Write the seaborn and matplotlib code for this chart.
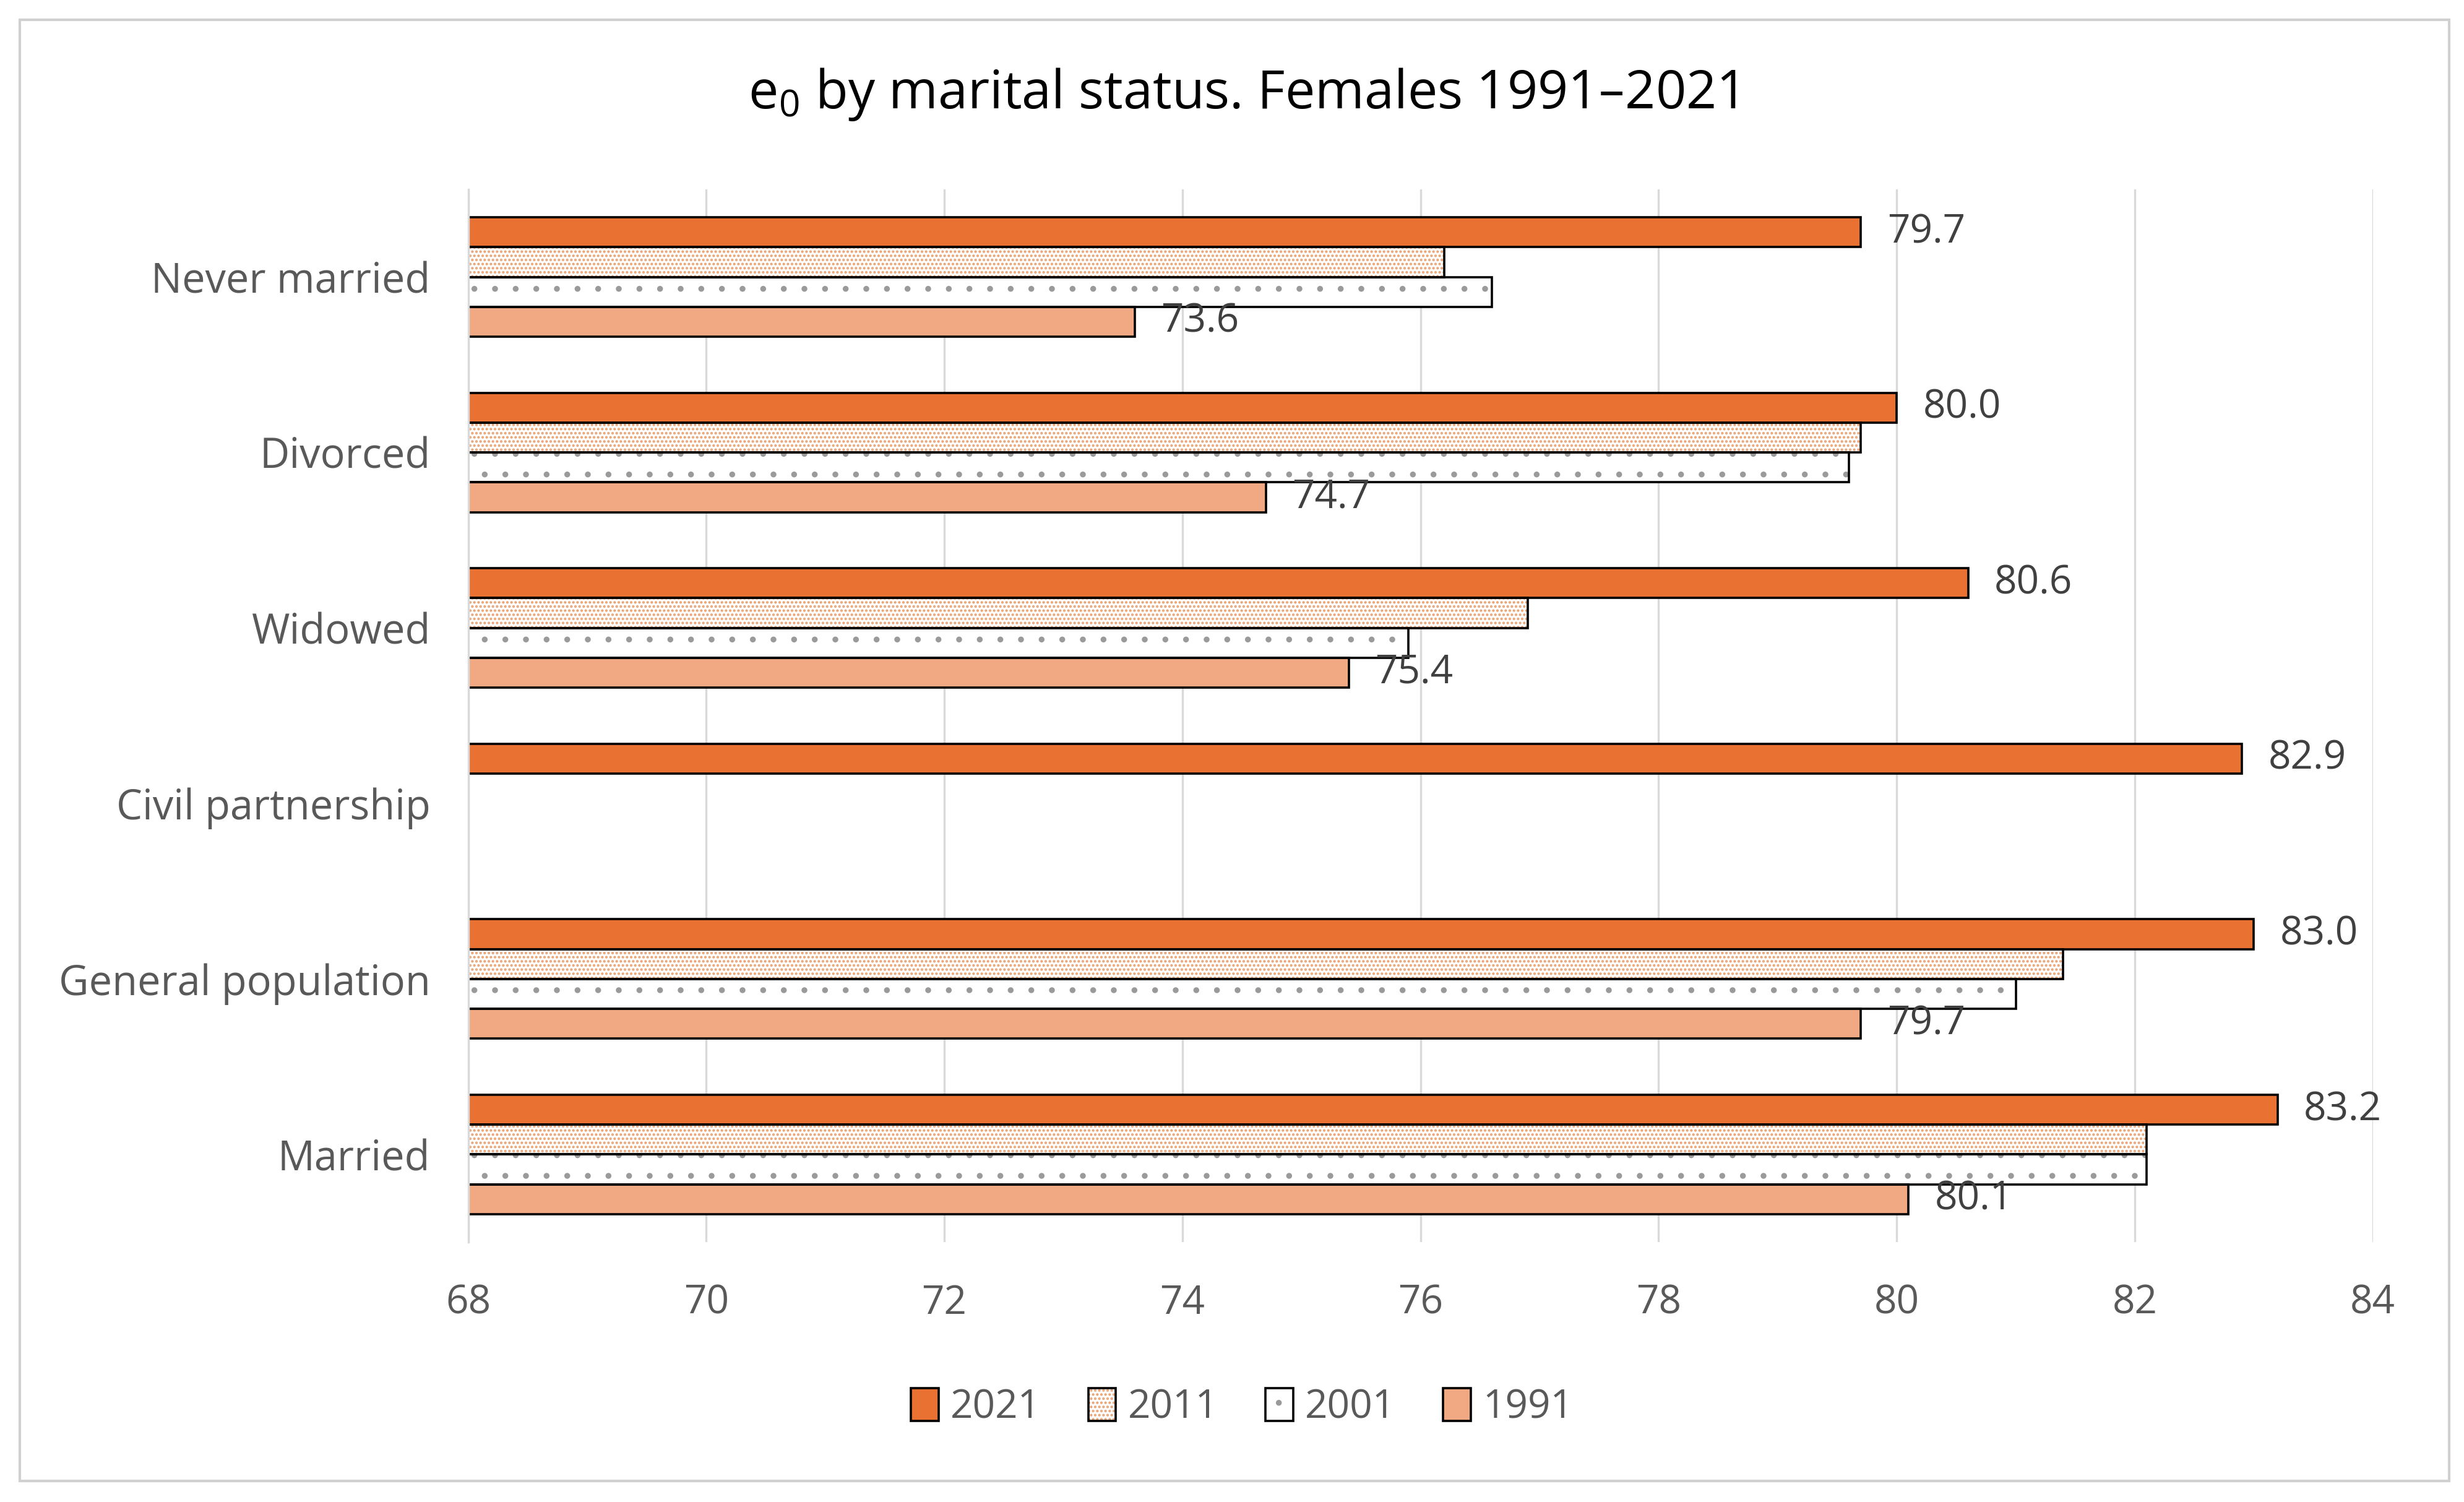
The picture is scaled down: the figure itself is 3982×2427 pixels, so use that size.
import numpy as np
import pandas as pd
import seaborn as sns
import matplotlib.pyplot as plt
from matplotlib.patches import Patch, Rectangle

categories = ['Never married', 'Divorced', 'Widowed', 'Civil partnership',
              'General population', 'Married']
years = ['2021', '2011', '2001', '1991']
e0_2021 = [79.7, 80.0, 80.6, 82.9, 83.0, 83.2]
e0_2011 = [76.2, 79.7, 76.9, np.nan, 81.4, 82.1]
e0_2001 = [76.6, 79.6, 75.9, np.nan, 81.0, 82.1]
e0_1991 = [73.6, 74.7, 75.4, np.nan, 79.7, 80.1]
labelled_years = ['2021', '1991']
x_ticks = [68, 70, 72, 74, 76, 78, 80, 82, 84]

series = {'2021': e0_2021, '2011': e0_2011, '2001': e0_2001, '1991': e0_1991}
rows = []
for year in years:
    for cat, val in zip(categories, series[year]):
        rows.append({'status': cat, 'year': year, 'e0': val})
df = pd.DataFrame(rows)

face = {'2021': '#E97132', '2011': 'white', '2001': 'white', '1991': '#F1A983'}
hatch = {'2021': '', '2011': '.....', '2001': '.', '1991': ''}
hatch_col = {'2021': '#E97132', '2011': '#E9A070', '2001': '#9a9a9a', '1991': '#F1A983'}

sns.set_theme(style='white')
plt.rcParams['font.family'] = ['Open Sans', 'DejaVu Sans']
plt.rcParams['mathtext.default'] = 'regular'
plt.rcParams['hatch.linewidth'] = 1.0
text_col = '#595959'

fig = plt.figure(figsize=(19.91, 12.135), dpi=200)
ax = fig.add_axes([0.190, 0.173, 0.773, 0.701])

# layer 1: fills + hatch (hatch colour follows edgecolor)
sns.barplot(data=df, y='status', x='e0', hue='year', order=categories,
            hue_order=years, orient='h', width=0.68, ax=ax,
            errorbar=None, legend=False, linewidth=0)
for year, cont in zip(years, ax.containers[:4]):
    for p in cont:
        p.set_facecolor(face[year])
        p.set_edgecolor(hatch_col[year])
        p.set_hatch(hatch[year])
        p.set_linewidth(0)

# layer 2: black outlines
sns.barplot(data=df, y='status', x='e0', hue='year', order=categories,
            hue_order=years, orient='h', width=0.68, ax=ax,
            errorbar=None, legend=False, fill=False)
for cont in ax.containers[4:8]:
    for p in cont:
        p.set_edgecolor('black')
        p.set_linewidth(1.3)
        p.set_facecolor('none')

# data labels for 2021 and 1991
for year, cont in zip(years, ax.containers[:4]):
    if year not in labelled_years:
        continue
    for p in cont:
        val = p.get_x() + p.get_width()
        if np.isnan(val):
            continue
        yc = p.get_y() + p.get_height() / 2
        ax.text(val + 0.22, yc, f'{val:.1f}', va='center', ha='left',
                fontsize=23, color='#404040')

ax.set_xlim(68, 84)
ax.set_xticks(x_ticks)
ax.set_xticklabels([str(t) for t in x_ticks])
ax.set_ylim(len(categories) - 0.5, -0.5)
ax.set_xlabel('')
ax.set_ylabel('')
ax.grid(axis='x', color='#d9d9d9', linewidth=1.2)
ax.grid(axis='y', visible=False)
ax.set_axisbelow(True)
for s in ['top', 'right', 'bottom']:
    ax.spines[s].set_visible(False)
ax.spines['left'].set_color('#d9d9d9')
ax.spines['left'].set_linewidth(1.2)
ax.tick_params(axis='x', length=0, pad=24, labelsize=23, labelcolor=text_col)
ax.tick_params(axis='y', length=0, pad=22, labelsize=24, labelcolor=text_col)

fig.text(0.504, 0.937, '$e_0$ by marital status. Females 1991–2021',
         ha='center', va='center', fontsize=31, color='black')

handles = []
for year in years:
    fill = Patch(facecolor=face[year], edgecolor=hatch_col[year],
                 hatch=hatch[year], linewidth=0)
    edge = Patch(facecolor='none', edgecolor='black', linewidth=1.3)
    handles.append((fill, edge))
fig.legend(handles, years, loc='center', bbox_to_anchor=(0.504, 0.063),
           ncol=4, frameon=False, fontsize=23, handlelength=0.7,
           handleheight=0.9, handletextpad=0.3, columnspacing=1.2,
           labelcolor=text_col)

fig.patches.append(Rectangle((0.008, 0.014), 0.986, 0.973,
                             transform=fig.transFigure, fill=False,
                             edgecolor='#d0d0d0', linewidth=1.5))

fig.savefig('out.png', dpi=200, facecolor='white')
